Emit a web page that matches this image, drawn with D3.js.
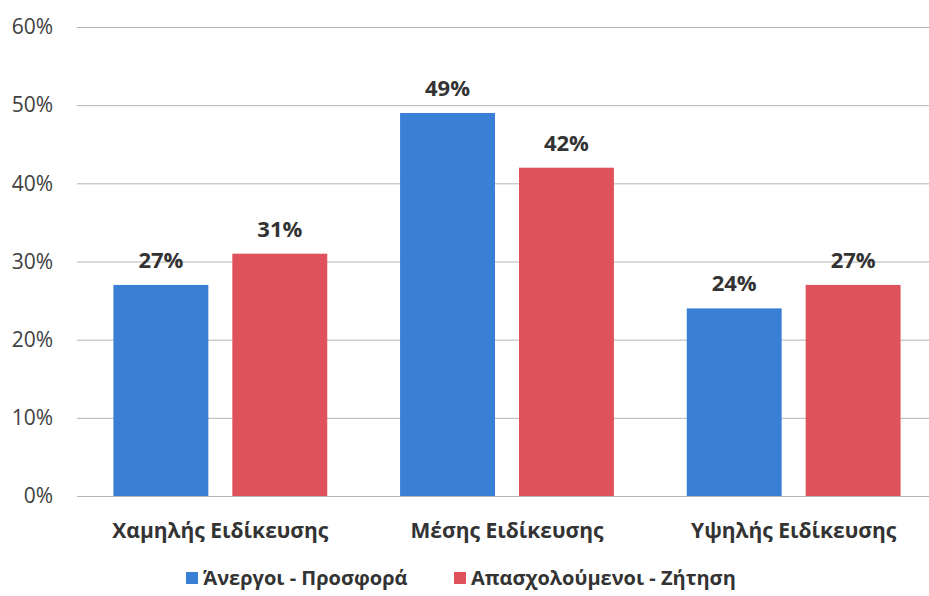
<!DOCTYPE html>
<html><head><meta charset="utf-8">
<script src="https://cdn.jsdelivr.net/npm/d3@7"></script>
<style>body{margin:0;background:#fff;}svg{display:block;font-family:"Open Sans",sans-serif;}</style>
</head><body>
<svg id="c" width="929" height="596"></svg>
<script>
const categories = ["Χαμηλής Ειδίκευσης", "Μέσης Ειδίκευσης", "Υψηλής Ειδίκευσης"];
const seriesNames = ["Άνεργοι - Προσφορά", "Απασχολούμενοι - Ζήτηση"];
const unemployedSupply = [27, 49, 24];
const employedDemand = [31, 42, 27];
const yTicks = [0, 10, 20, 30, 40, 50, 60];
const colors = ["#3a7fd6", "#e0525b"];

const svg = d3.select("#c");
const y = d3.scaleLinear().domain([0, 60]).range([496, 27]);
const x0 = d3.scaleBand().domain(categories).range([77, 937]).paddingInner(0.254).paddingOuter(0.127);
const x1 = d3.scaleBand().domain([0, 1]).range([0, x0.bandwidth()]).paddingInner(0.2017).paddingOuter(0);

// grid
const yAxis = d3.axisLeft(y).tickValues(yTicks).tickFormat(d => d + "%").tickSize(-(929 - 77)).tickPadding(24);
const g = svg.append("g").attr("transform", "translate(77,0)").call(yAxis);
g.select(".domain").remove();
g.selectAll(".tick line").attr("stroke", "#b4b4b4").attr("stroke-width", 1);
g.selectAll(".tick text").attr("fill", "#404040").attr("font-size", 21).attr("font-family", "'Open Sans',sans-serif");

const data = categories.map((c, i) => ({cat: c, vals: [unemployedSupply[i], employedDemand[i]]}));
const grp = svg.append("g").selectAll("g").data(data).join("g")
  .attr("transform", d => `translate(${x0(d.cat)},0)`);
grp.selectAll("rect").data(d => d.vals.map((v, k) => ({v, k}))).join("rect")
  .attr("x", d => x1(d.k)).attr("width", x1.bandwidth())
  .attr("y", d => y(d.v)).attr("height", d => y(0) - y(d.v))
  .attr("fill", d => colors[d.k]);
grp.selectAll("text.val").data(d => d.vals.map((v, k) => ({v, k}))).join("text")
  .attr("class", "val")
  .attr("x", d => x1(d.k) + x1.bandwidth() / 2).attr("y", d => y(d.v) - 17)
  .attr("text-anchor", "middle").attr("font-weight", "bold").attr("font-size", 22).attr("fill", "#333")
  .text(d => d.v + "%");

// category labels
svg.append("g").selectAll("text").data(categories).join("text")
  .attr("x", d => x0(d) + x0.bandwidth() / 2).attr("y", 538)
  .attr("text-anchor", "middle").attr("font-weight", "bold").attr("font-size", 21).attr("fill", "#333")
  .text(d => d);

// legend
const legX = [186, 454];
const leg = svg.append("g").selectAll("g").data(seriesNames).join("g")
  .attr("transform", (d, i) => `translate(${legX[i]},578)`);
leg.append("rect").attr("x", 0).attr("y", -6).attr("width", 12).attr("height", 12).attr("fill", (d, i) => colors[i]);
leg.append("text").attr("x", 17).attr("y", 7).attr("font-weight", "bold").attr("font-size", 20).attr("fill", "#333").text(d => d);
</script>
</body></html>
